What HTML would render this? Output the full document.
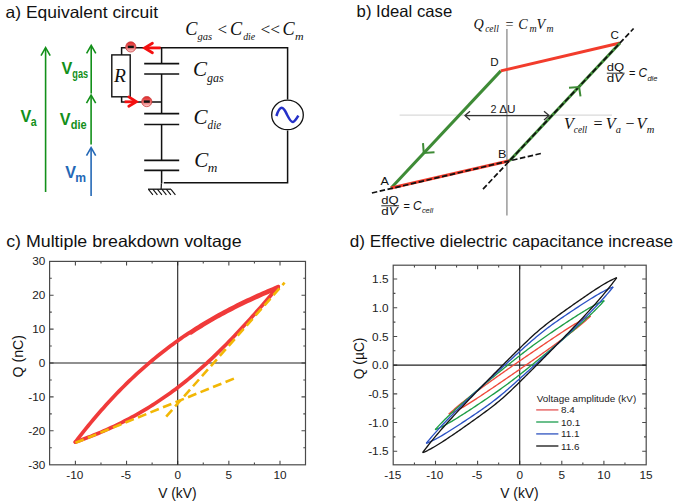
<!DOCTYPE html>
<html><head><meta charset="utf-8"><style>
html,body{margin:0;padding:0;background:#fff;}
svg{display:block;}
</style></head><body>
<svg width="675" height="504" viewBox="0 0 675 504">
<rect width="675" height="504" fill="#fff"/>
<text x="5.6" y="17.8" style="font-family:'Liberation Sans',sans-serif;font-size:16.5px" fill="#111" textLength="152.4" lengthAdjust="spacingAndGlyphs">a) Equivalent circuit</text>
<text x="356.6" y="17.1" style="font-family:'Liberation Sans',sans-serif;font-size:16.5px" fill="#111" textLength="95.6" lengthAdjust="spacingAndGlyphs">b) Ideal case</text>
<text x="6.2" y="247.3" style="font-family:'Liberation Sans',sans-serif;font-size:16.5px" fill="#111" textLength="235.4" lengthAdjust="spacingAndGlyphs">c) Multiple breakdown voltage</text>
<text x="349.8" y="247.3" style="font-family:'Liberation Sans',sans-serif;font-size:16.5px" fill="#111" textLength="323.2" lengthAdjust="spacingAndGlyphs">d) Effective dielectric capacitance increase</text>
<line x1="45.6" y1="48.2" x2="45.6" y2="192" stroke="#13901a" stroke-width="1.6"/>
<polyline points="41.0,55.6 45.6,47.6 50.2,55.6" fill="none" stroke="#13901a" stroke-width="1.6"/>
<line x1="91.2" y1="46.0" x2="91.2" y2="93.5" stroke="#13901a" stroke-width="1.6"/>
<polyline points="86.60000000000001,53.4 91.2,45.4 95.8,53.4" fill="none" stroke="#13901a" stroke-width="1.6"/>
<line x1="91.1" y1="95.8" x2="91.1" y2="144.5" stroke="#13901a" stroke-width="1.6"/>
<polyline points="86.5,103.2 91.1,95.2 95.69999999999999,103.2" fill="none" stroke="#13901a" stroke-width="1.6"/>
<line x1="91.1" y1="148.2" x2="91.1" y2="196" stroke="#2468b6" stroke-width="1.6"/>
<polyline points="86.5,155.6 91.1,147.6 95.69999999999999,155.6" fill="none" stroke="#2468b6" stroke-width="1.6"/>
<text x="61.4" y="74" style="font-family:'Liberation Sans',sans-serif;font-size:16.2px;font-weight:bold" fill="#13901a">V</text>
<text x="72.3" y="78.4" style="font-family:'Liberation Sans',sans-serif;font-size:12.6px;font-weight:bold" fill="#13901a" textLength="15.8" lengthAdjust="spacingAndGlyphs">gas</text>
<text x="20.6" y="121.6" style="font-family:'Liberation Sans',sans-serif;font-size:16.2px;font-weight:bold" fill="#13901a">V</text>
<text x="30.8" y="126" style="font-family:'Liberation Sans',sans-serif;font-size:12.6px;font-weight:bold" fill="#13901a" textLength="5.9" lengthAdjust="spacingAndGlyphs">a</text>
<text x="59.7" y="124.6" style="font-family:'Liberation Sans',sans-serif;font-size:16.2px;font-weight:bold" fill="#13901a">V</text>
<text x="70.8" y="129" style="font-family:'Liberation Sans',sans-serif;font-size:12.6px;font-weight:bold" fill="#13901a" textLength="15.9" lengthAdjust="spacingAndGlyphs">die</text>
<text x="65.3" y="177.8" style="font-family:'Liberation Sans',sans-serif;font-size:16.2px;font-weight:bold" fill="#2468b6">V</text>
<text x="75.3" y="182.2" style="font-family:'Liberation Sans',sans-serif;font-size:12.6px;font-weight:bold" fill="#2468b6" textLength="10.8" lengthAdjust="spacingAndGlyphs">m</text>
<path d="M121.6,55 V47.8 H287.6 V99.5 M287.6,130.5 V182.8 H163.8 M121.6,96.8 V102 H161.6 M161.6,47.8 V63.6 M161.6,74 V113.6 M161.6,124.5 V160.3 M161.6,170.3 V183.5" fill="none" stroke="#111" stroke-width="1.5"/>
<path d="M161.4,183.5 L161.1,189" stroke="#111" stroke-width="1.2"/>
<rect x="111.8" y="54.9" width="18.4" height="41.9" fill="#fff" stroke="#111" stroke-width="1.4"/>
<text x="114" y="81.9" style="font-family:'Liberation Serif',serif;font-size:19.5px;font-style:italic" fill="#111">R</text>
<line x1="144.2" y1="63.6" x2="179.2" y2="63.6" stroke="#111" stroke-width="1.7"/>
<line x1="144.2" y1="74" x2="179.2" y2="74" stroke="#111" stroke-width="1.7"/>
<line x1="144.2" y1="113.6" x2="179.2" y2="113.6" stroke="#111" stroke-width="1.7"/>
<line x1="144.2" y1="124.5" x2="179.2" y2="124.5" stroke="#111" stroke-width="1.7"/>
<line x1="144.2" y1="160.3" x2="179.2" y2="160.3" stroke="#111" stroke-width="1.7"/>
<line x1="144.2" y1="170.3" x2="179.2" y2="170.3" stroke="#111" stroke-width="1.7"/>
<line x1="148" y1="189.2" x2="171" y2="189.2" stroke="#111" stroke-width="1.3"/>
<line x1="148.5" y1="189.3" x2="152.9" y2="194.8" stroke="#111" stroke-width="1.1"/>
<line x1="153.0" y1="189.3" x2="157.4" y2="194.8" stroke="#111" stroke-width="1.1"/>
<line x1="157.5" y1="189.3" x2="161.9" y2="194.8" stroke="#111" stroke-width="1.1"/>
<line x1="162.0" y1="189.3" x2="166.4" y2="194.8" stroke="#111" stroke-width="1.1"/>
<line x1="166.5" y1="189.3" x2="170.9" y2="194.8" stroke="#111" stroke-width="1.1"/>
<line x1="171.0" y1="189.3" x2="175.4" y2="194.8" stroke="#111" stroke-width="1.1"/>
<ellipse cx="287.5" cy="114.9" rx="15.8" ry="14.8" fill="#fff" stroke="#111" stroke-width="1.3"/>
<path d="M276.4,116 C278.5,109.5 280.4,107.6 282.2,107.9 C284.5,108.3 285.6,112 287.2,115 C289,118.5 290.6,122.2 293,121.9 C295,121.6 296.8,118.4 298.4,115.6" fill="none" stroke="#2430c8" stroke-width="2.5"/>
<defs><linearGradient id="eg" x1="0" y1="0" x2="0" y2="1"><stop offset="0" stop-color="#e02a2a"/><stop offset="0.55" stop-color="#ec6a6a"/><stop offset="1" stop-color="#fbd6d6"/></linearGradient></defs>
<circle cx="130.8" cy="46.9" r="5.1" fill="url(#eg)" stroke="#c83a3a" stroke-width="0.8"/>
<rect x="127.80000000000001" y="45.699999999999996" width="6" height="2.4" fill="#111"/>
<circle cx="146.8" cy="101.6" r="5.1" fill="url(#eg)" stroke="#c83a3a" stroke-width="0.8"/>
<rect x="143.8" y="100.39999999999999" width="6" height="2.4" fill="#111"/>
<line x1="145" y1="47.9" x2="160.6" y2="47.9" stroke="#f41010" stroke-width="2.8"/>
<polyline points="152.4,43.2 144.6,47.9 152.4,52.7" fill="none" stroke="#f41010" stroke-width="2.8" stroke-linecap="round"/>
<line x1="124.6" y1="101.8" x2="135.4" y2="101.8" stroke="#f41010" stroke-width="2.8"/>
<polyline points="128.8,96.9 136.4,101.8 128.8,106.2" fill="none" stroke="#f41010" stroke-width="2.8" stroke-linecap="round"/>
<text x="193" y="76" style="font-family:'Liberation Serif',serif;font-size:21px;font-style:italic" fill="#111">C</text>
<text x="207" y="81.6" style="font-family:'Liberation Serif',serif;font-size:12.6px;font-style:italic" fill="#111" textLength="16.6" lengthAdjust="spacingAndGlyphs">gas</text>
<text x="193.4" y="123.8" style="font-family:'Liberation Serif',serif;font-size:21px;font-style:italic" fill="#111">C</text>
<text x="207.6" y="129.4" style="font-family:'Liberation Serif',serif;font-size:12.6px;font-style:italic" fill="#111" textLength="13.6" lengthAdjust="spacingAndGlyphs">die</text>
<text x="194.2" y="166.8" style="font-family:'Liberation Serif',serif;font-size:21px;font-style:italic" fill="#111">C</text>
<text x="207.8" y="172.4" style="font-family:'Liberation Serif',serif;font-size:12.6px;font-style:italic" fill="#111" textLength="9.6" lengthAdjust="spacingAndGlyphs">m</text>
<text x="185.2" y="34.9" style="font-family:'Liberation Serif',serif;font-size:18.2px;font-style:italic" fill="#111">C</text>
<text x="197.6" y="40.2" style="font-family:'Liberation Serif',serif;font-size:11.2px;font-style:italic" fill="#111" textLength="14.6" lengthAdjust="spacingAndGlyphs">gas</text>
<text x="217.6" y="34.9" style="font-family:'Liberation Serif',serif;font-size:17px" fill="#111">&lt;</text>
<text x="230" y="34.9" style="font-family:'Liberation Serif',serif;font-size:18.2px;font-style:italic" fill="#111">C</text>
<text x="243.2" y="40.2" style="font-family:'Liberation Serif',serif;font-size:11.2px;font-style:italic" fill="#111" textLength="12" lengthAdjust="spacingAndGlyphs">die</text>
<text x="260.6" y="34.9" style="font-family:'Liberation Serif',serif;font-size:17px" fill="#111" textLength="19.5" lengthAdjust="spacingAndGlyphs">&lt;&lt;</text>
<text x="282.4" y="34.9" style="font-family:'Liberation Serif',serif;font-size:18.2px;font-style:italic" fill="#111">C</text>
<text x="295" y="40.2" style="font-family:'Liberation Serif',serif;font-size:11.2px;font-style:italic" fill="#111" textLength="8.6" lengthAdjust="spacingAndGlyphs">m</text>
<line x1="399.6" y1="115.2" x2="612" y2="115.2" stroke="#dadada" stroke-width="1.2"/>
<line x1="506.9" y1="28.9" x2="506.9" y2="215.6" stroke="#9a9a9a" stroke-width="1.5"/>
<line x1="500.8" y1="70.9" x2="391.1" y2="188.0" stroke="#3e8b36" stroke-width="3"/>
<line x1="500.8" y1="70.9" x2="620.0" y2="43.0" stroke="#f23c2c" stroke-width="3"/>
<line x1="391.1" y1="188.0" x2="509.6" y2="160.7" stroke="#f23c2c" stroke-width="3"/>
<line x1="509.6" y1="160.7" x2="620.0" y2="43.0" stroke="#3e8b36" stroke-width="3"/>
<line x1="371.9" y1="193.02" x2="541.3" y2="153.4" stroke="#111" stroke-width="1.7" stroke-dasharray="5.5,2.5"/>
<line x1="483" y1="189.06" x2="633.6" y2="28.5" stroke="#111" stroke-width="1.7" stroke-dasharray="5.5,2.5"/>
<polyline points="423,143.2 423.75,152.9 434.5,152.2" fill="none" stroke="#3e8b36" stroke-width="2"/>
<polyline points="569,87.7 579.1,87 580.5,96.4" fill="none" stroke="#3e8b36" stroke-width="2"/>
<line x1="465" y1="115.6" x2="549" y2="115.6" stroke="#333" stroke-width="1.3"/>
<polyline points="470,111.3 465,115.6 470,119.9" fill="none" stroke="#333" stroke-width="1.3"/>
<polyline points="544,111.3 549,115.6 544,119.9" fill="none" stroke="#333" stroke-width="1.3"/>
<text x="490.6" y="112.8" style="font-family:'Liberation Sans',sans-serif;font-size:10.8px" fill="#222">2</text>
<text x="499.2" y="112.8" style="font-family:'Liberation Sans',sans-serif;font-size:10.8px" fill="#222" textLength="16.4" lengthAdjust="spacingAndGlyphs">ΔU</text>
<text x="490.3" y="66.2" style="font-family:'Liberation Sans',sans-serif;font-size:11.6px" fill="#111" textLength="8.4" lengthAdjust="spacingAndGlyphs">D</text>
<text x="610.6" y="39.2" style="font-family:'Liberation Sans',sans-serif;font-size:11.6px" fill="#111" textLength="8.4" lengthAdjust="spacingAndGlyphs">C</text>
<text x="498" y="157.8" style="font-family:'Liberation Sans',sans-serif;font-size:11.6px" fill="#111" textLength="8.4" lengthAdjust="spacingAndGlyphs">B</text>
<text x="380.6" y="185.2" style="font-family:'Liberation Sans',sans-serif;font-size:11.6px" fill="#111" textLength="8.4" lengthAdjust="spacingAndGlyphs">A</text>
<text x="473.4" y="28.6" style="font-family:'Liberation Serif',serif;font-size:14.2px;font-style:italic" fill="#111">Q</text>
<text x="485.2" y="31.7" style="font-family:'Liberation Serif',serif;font-size:10.2px;font-style:italic" fill="#111" textLength="13.6" lengthAdjust="spacingAndGlyphs">cell</text>
<text x="505.4" y="28.6" style="font-family:'Liberation Serif',serif;font-size:14.2px" fill="#111">=</text>
<text x="518.2" y="28.6" style="font-family:'Liberation Serif',serif;font-size:14.2px;font-style:italic" fill="#111">C</text>
<text x="529.4" y="31.7" style="font-family:'Liberation Serif',serif;font-size:10.2px;font-style:italic" fill="#111" textLength="7.2" lengthAdjust="spacingAndGlyphs">m</text>
<text x="536.4" y="28.6" style="font-family:'Liberation Serif',serif;font-size:14.2px;font-style:italic" fill="#111">V</text>
<text x="546.4" y="31.7" style="font-family:'Liberation Serif',serif;font-size:10.2px;font-style:italic" fill="#111" textLength="7.0" lengthAdjust="spacingAndGlyphs">m</text>
<text x="564" y="128.7" style="font-family:'Liberation Serif',serif;font-size:16px;font-style:italic" fill="#111">V</text>
<text x="573.8" y="133" style="font-family:'Liberation Serif',serif;font-size:10.4px;font-style:italic" fill="#111" textLength="13.4" lengthAdjust="spacingAndGlyphs">cell</text>
<text x="593.4" y="128.7" style="font-family:'Liberation Serif',serif;font-size:16px" fill="#111">=</text>
<text x="605.8" y="128.7" style="font-family:'Liberation Serif',serif;font-size:16px;font-style:italic" fill="#111">V</text>
<text x="615.8" y="133" style="font-family:'Liberation Serif',serif;font-size:10.4px;font-style:italic" fill="#111">a</text>
<text x="625.4" y="128.7" style="font-family:'Liberation Serif',serif;font-size:16px" fill="#111">−</text>
<text x="636.4" y="128.7" style="font-family:'Liberation Serif',serif;font-size:16px;font-style:italic" fill="#111">V</text>
<text x="646.8" y="133" style="font-family:'Liberation Serif',serif;font-size:10.4px;font-style:italic" fill="#111" textLength="7.6" lengthAdjust="spacingAndGlyphs">m</text>
<text x="606.8" y="71" style="font-family:'Liberation Sans',sans-serif;font-size:11px" fill="#111" textLength="17.4" lengthAdjust="spacingAndGlyphs">dQ</text>
<line x1="606.8" y1="73.2" x2="624.5999999999999" y2="73.2" stroke="#111" stroke-width="0.9"/>
<text x="606.8" y="82" style="font-family:'Liberation Sans',sans-serif;font-size:11px" fill="#111" textLength="16.4" lengthAdjust="spacingAndGlyphs">d<tspan style="font-style:italic">V</tspan></text>
<text x="629" y="77.4" style="font-family:'Liberation Sans',sans-serif;font-size:11px" fill="#111">=</text>
<text x="638.6" y="77.4" style="font-family:'Liberation Sans',sans-serif;font-size:12px;font-style:italic" fill="#111" textLength="8.6" lengthAdjust="spacingAndGlyphs">C</text>
<text x="647.4" y="80.6" style="font-family:'Liberation Sans',sans-serif;font-size:7.4px;font-style:italic" fill="#111" textLength="10" lengthAdjust="spacingAndGlyphs">die</text>
<text x="381.3" y="203.6" style="font-family:'Liberation Sans',sans-serif;font-size:11px" fill="#111" textLength="17.4" lengthAdjust="spacingAndGlyphs">dQ</text>
<line x1="381.3" y1="205.8" x2="399.1" y2="205.8" stroke="#111" stroke-width="0.9"/>
<text x="381.3" y="214.6" style="font-family:'Liberation Sans',sans-serif;font-size:11px" fill="#111" textLength="16.4" lengthAdjust="spacingAndGlyphs">d<tspan style="font-style:italic">V</tspan></text>
<text x="403.5" y="210" style="font-family:'Liberation Sans',sans-serif;font-size:11px" fill="#111">=</text>
<text x="413.1" y="210" style="font-family:'Liberation Sans',sans-serif;font-size:12px;font-style:italic" fill="#111" textLength="8.6" lengthAdjust="spacingAndGlyphs">C</text>
<text x="421.9" y="213.2" style="font-family:'Liberation Sans',sans-serif;font-size:7.4px;font-style:italic" fill="#111" textLength="11.2" lengthAdjust="spacingAndGlyphs">cell</text>
<rect x="49.6" y="261.4" width="255.9" height="203.4" fill="none" stroke="#4a4a4a" stroke-width="1.2"/>
<path d="M75.4,261.4 v4 M75.4,464.8 v-4 M100.97,261.4 v2.2 M100.97,464.8 v-2.2 M126.55,261.4 v4 M126.55,464.8 v-4 M152.12,261.4 v2.2 M152.12,464.8 v-2.2 M177.7,261.4 v4 M177.7,464.8 v-4 M203.27,261.4 v2.2 M203.27,464.8 v-2.2 M228.85,261.4 v4 M228.85,464.8 v-4 M254.43,261.4 v2.2 M254.43,464.8 v-2.2 M280,261.4 v4 M280,464.8 v-4 M49.6,447.73 h2.2 M305.5,447.73 h-2.2 M49.6,430.78 h4 M305.5,430.78 h-4 M49.6,413.83 h2.2 M305.5,413.83 h-2.2 M49.6,396.89 h4 M305.5,396.89 h-4 M49.6,379.94 h2.2 M305.5,379.94 h-2.2 M49.6,363 h4 M305.5,363 h-4 M49.6,346.06 h2.2 M305.5,346.06 h-2.2 M49.6,329.11 h4 M305.5,329.11 h-4 M49.6,312.17 h2.2 M305.5,312.17 h-2.2 M49.6,295.22 h4 M305.5,295.22 h-4 M49.6,278.27 h2.2 M305.5,278.27 h-2.2 " stroke="#4a4a4a" stroke-width="1.1" fill="none"/>
<line x1="49.6" y1="363.0" x2="305.5" y2="363.0" stroke="#222" stroke-width="1.1"/>
<line x1="177.7" y1="261.4" x2="177.7" y2="464.8" stroke="#222" stroke-width="1.1"/>
<text x="74.8" y="479.2" style="font-family:'Liberation Sans',sans-serif;font-size:11.8px" fill="#222" text-anchor="middle">-10</text>
<text x="125.95" y="479.2" style="font-family:'Liberation Sans',sans-serif;font-size:11.8px" fill="#222" text-anchor="middle">-5</text>
<text x="177.7" y="479.2" style="font-family:'Liberation Sans',sans-serif;font-size:11.8px" fill="#222" text-anchor="middle">0</text>
<text x="228.85" y="479.2" style="font-family:'Liberation Sans',sans-serif;font-size:11.8px" fill="#222" text-anchor="middle">5</text>
<text x="280" y="479.2" style="font-family:'Liberation Sans',sans-serif;font-size:11.8px" fill="#222" text-anchor="middle">10</text>
<text x="45.4" y="265.43" style="font-family:'Liberation Sans',sans-serif;font-size:11.8px" fill="#222" text-anchor="end">30</text>
<text x="45.4" y="299.32" style="font-family:'Liberation Sans',sans-serif;font-size:11.8px" fill="#222" text-anchor="end">20</text>
<text x="45.4" y="333.21" style="font-family:'Liberation Sans',sans-serif;font-size:11.8px" fill="#222" text-anchor="end">10</text>
<text x="45.4" y="367.1" style="font-family:'Liberation Sans',sans-serif;font-size:11.8px" fill="#222" text-anchor="end">0</text>
<text x="45.4" y="400.99" style="font-family:'Liberation Sans',sans-serif;font-size:11.8px" fill="#222" text-anchor="end">-10</text>
<text x="45.4" y="434.88" style="font-family:'Liberation Sans',sans-serif;font-size:11.8px" fill="#222" text-anchor="end">-20</text>
<text x="45.4" y="468.77" style="font-family:'Liberation Sans',sans-serif;font-size:11.8px" fill="#222" text-anchor="end">-30</text>
<text x="177.4" y="497.6" style="font-family:'Liberation Sans',sans-serif;font-size:13.8px" fill="#111" text-anchor="middle">V (kV)</text>
<text transform="translate(22.8,356.2) rotate(-90)" text-anchor="middle" textLength="42.6" lengthAdjust="spacingAndGlyphs" style="font-family:'Liberation Sans',sans-serif;font-size:13.8px" fill="#111">Q (nC)</text>
<path d="M75.4,442.1 L77.97,438.73 L80.53,435.42 L83.1,432.15 L85.67,428.92 L88.24,425.75 L90.8,422.62 L93.37,419.54 L95.94,416.5 L98.5,413.51 L101.07,410.56 L103.64,407.66 L106.21,404.8 L108.77,401.98 L111.34,399.21 L113.91,396.48 L116.47,393.79 L119.04,391.14 L121.61,388.53 L124.17,385.96 L126.74,383.44 L129.31,380.95 L131.88,378.5 L134.44,376.08 L137.01,373.71 L139.58,371.37 L142.14,369.07 L144.71,366.81 L147.28,364.58 L149.85,362.38 L152.41,360.23 L154.98,358.1 L157.55,356.01 L160.11,353.95 L162.68,351.93 L165.25,349.94 L167.82,347.98 L170.38,346.05 L172.95,344.15 L175.52,342.28 L178.08,340.44 L180.65,338.63 L183.22,336.85 L185.78,335.1 L188.35,333.37 L190.92,331.68 L193.49,330.01 L196.05,328.36 L198.62,326.75 L201.19,325.15 L203.75,323.59 L206.32,322.04 L208.89,320.52 L211.46,319.03 L214.02,317.56 L216.59,316.1 L219.16,314.68 L221.72,313.27 L224.29,311.88 L226.86,310.52 L229.43,309.17 L231.99,307.85 L234.56,306.54 L237.13,305.25 L239.69,303.98 L242.26,302.73 L244.83,301.49 L247.39,300.27 L249.96,299.06 L252.53,297.88 L255.1,296.7 L257.66,295.54 L260.23,294.4 L262.8,293.27 L265.36,292.15 L267.93,291.05 L270.5,289.95 L273.07,288.87 L275.63,287.8 L278.2,286.74 " fill="none" stroke="#f03a3a" stroke-width="3.7" stroke-linejoin="round" stroke-linecap="round"/>
<path d="M75.4,442.08 L77.97,441.18 L80.53,440.25 L83.1,439.3 L85.67,438.34 L88.24,437.35 L90.8,436.35 L93.37,435.32 L95.94,434.27 L98.5,433.21 L101.07,432.12 L103.64,431 L106.21,429.87 L108.77,428.71 L111.34,427.53 L113.91,426.32 L116.47,425.1 L119.04,423.84 L121.61,422.56 L124.17,421.26 L126.74,419.93 L129.31,418.57 L131.88,417.18 L134.44,415.77 L137.01,414.34 L139.58,412.87 L142.14,411.37 L144.71,409.85 L147.28,408.3 L149.85,406.71 L152.41,405.1 L154.98,403.46 L157.55,401.78 L160.11,400.08 L162.68,398.34 L165.25,396.57 L167.82,394.77 L170.38,392.94 L172.95,391.07 L175.52,389.17 L178.08,387.23 L180.65,385.26 L183.22,383.26 L185.78,381.22 L188.35,379.14 L190.92,377.03 L193.49,374.88 L196.05,372.69 L198.62,370.47 L201.19,368.21 L203.75,365.91 L206.32,363.58 L208.89,361.21 L211.46,358.8 L214.02,356.37 L216.59,353.9 L219.16,351.4 L221.72,348.86 L224.29,346.3 L226.86,343.7 L229.43,341.08 L231.99,338.43 L234.56,335.75 L237.13,333.04 L239.69,330.31 L242.26,327.55 L244.83,324.77 L247.39,321.97 L249.96,319.14 L252.53,316.28 L255.1,313.41 L257.66,310.51 L260.23,307.6 L262.8,304.66 L265.36,301.71 L267.93,298.74 L270.5,295.75 L273.07,292.74 L275.63,289.72 L278.2,286.69" fill="none" stroke="#f03a3a" stroke-width="3.7" stroke-linejoin="round" stroke-linecap="round"/>
<path d="M190.92,332.88 L193.49,331.21 L196.05,329.56 L198.62,327.95 L201.19,326.35 L203.75,324.79 L206.32,323.24 L208.89,321.72 L211.46,320.23 L214.02,318.76 L216.59,317.3 L219.16,315.88 L221.72,314.47 L224.29,313.08 L226.86,311.72 L229.43,310.37 L231.99,309.05 L234.56,307.74 L237.13,306.45 L239.69,305.18 L242.26,303.93 L244.83,302.69 L247.39,301.47 L249.96,300.26 L252.53,299.08 L255.1,297.9 L257.66,296.74 L260.23,295.6 L262.8,294.47 L265.36,293.35 L267.93,292.25 L270.5,291.15 L273.07,290.07 L275.63,289 L278.2,287.94" fill="none" stroke="#f03a3a" stroke-width="3.6" stroke-linejoin="round" stroke-linecap="round"/>
<line x1="75.4" y1="442.8" x2="234.4" y2="378.4" stroke="#f2b705" stroke-width="2.6" stroke-dasharray="9,4.5"/>
<line x1="166.2" y1="416.6" x2="284.6" y2="282.6" stroke="#f2b705" stroke-width="2.6" stroke-dasharray="9,4.5"/>
<rect x="393.2" y="265.2" width="253" height="199.6" fill="none" stroke="#4a4a4a" stroke-width="1.2"/>
<path d="M414.45,265.2 v2.2 M414.45,464.8 v-2.2 M435.5,265.2 v4 M435.5,464.8 v-4 M456.55,265.2 v2.2 M456.55,464.8 v-2.2 M477.6,265.2 v4 M477.6,464.8 v-4 M498.65,265.2 v2.2 M498.65,464.8 v-2.2 M519.7,265.2 v4 M519.7,464.8 v-4 M540.75,265.2 v2.2 M540.75,464.8 v-2.2 M561.8,265.2 v4 M561.8,464.8 v-4 M582.85,265.2 v2.2 M582.85,464.8 v-2.2 M603.9,265.2 v4 M603.9,464.8 v-4 M624.95,265.2 v2.2 M624.95,464.8 v-2.2 M393.2,451.25 h4 M646.2,451.25 h-4 M393.2,436.9 h2.2 M646.2,436.9 h-2.2 M393.2,422.55 h4 M646.2,422.55 h-4 M393.2,408.2 h2.2 M646.2,408.2 h-2.2 M393.2,393.85 h4 M646.2,393.85 h-4 M393.2,379.5 h2.2 M646.2,379.5 h-2.2 M393.2,365.15 h4 M646.2,365.15 h-4 M393.2,350.8 h2.2 M646.2,350.8 h-2.2 M393.2,336.45 h4 M646.2,336.45 h-4 M393.2,322.1 h2.2 M646.2,322.1 h-2.2 M393.2,307.75 h4 M646.2,307.75 h-4 M393.2,293.4 h2.2 M646.2,293.4 h-2.2 M393.2,279.05 h4 M646.2,279.05 h-4 " stroke="#4a4a4a" stroke-width="1.1" fill="none"/>
<line x1="393.2" y1="365.15" x2="646.2" y2="365.15" stroke="#222" stroke-width="1.1"/>
<line x1="519.7" y1="265.2" x2="519.7" y2="464.8" stroke="#222" stroke-width="1.1"/>
<text x="392.8" y="479.2" style="font-family:'Liberation Sans',sans-serif;font-size:11.8px" fill="#222" text-anchor="middle">-15</text>
<text x="434.9" y="479.2" style="font-family:'Liberation Sans',sans-serif;font-size:11.8px" fill="#222" text-anchor="middle">-10</text>
<text x="477" y="479.2" style="font-family:'Liberation Sans',sans-serif;font-size:11.8px" fill="#222" text-anchor="middle">-5</text>
<text x="519.7" y="479.2" style="font-family:'Liberation Sans',sans-serif;font-size:11.8px" fill="#222" text-anchor="middle">0</text>
<text x="561.8" y="479.2" style="font-family:'Liberation Sans',sans-serif;font-size:11.8px" fill="#222" text-anchor="middle">5</text>
<text x="603.9" y="479.2" style="font-family:'Liberation Sans',sans-serif;font-size:11.8px" fill="#222" text-anchor="middle">10</text>
<text x="646" y="479.2" style="font-family:'Liberation Sans',sans-serif;font-size:11.8px" fill="#222" text-anchor="middle">15</text>
<text x="388.5" y="283.15" style="font-family:'Liberation Sans',sans-serif;font-size:11.8px" fill="#222" text-anchor="end">1.5</text>
<text x="388.5" y="311.85" style="font-family:'Liberation Sans',sans-serif;font-size:11.8px" fill="#222" text-anchor="end">1.0</text>
<text x="388.5" y="340.55" style="font-family:'Liberation Sans',sans-serif;font-size:11.8px" fill="#222" text-anchor="end">0.5</text>
<text x="388.5" y="369.25" style="font-family:'Liberation Sans',sans-serif;font-size:11.8px" fill="#222" text-anchor="end">0.0</text>
<text x="388.5" y="397.95" style="font-family:'Liberation Sans',sans-serif;font-size:11.8px" fill="#222" text-anchor="end">-0.5</text>
<text x="388.5" y="426.65" style="font-family:'Liberation Sans',sans-serif;font-size:11.8px" fill="#222" text-anchor="end">-1.0</text>
<text x="388.5" y="455.35" style="font-family:'Liberation Sans',sans-serif;font-size:11.8px" fill="#222" text-anchor="end">-1.5</text>
<text x="519.5" y="497.6" style="font-family:'Liberation Sans',sans-serif;font-size:13.8px" fill="#111" text-anchor="middle">V (kV)</text>
<text transform="translate(363.6,358.4) rotate(-90)" text-anchor="middle" style="font-family:'Liberation Sans',sans-serif;font-size:13.8px" fill="#111">Q (µC)</text>
<path d="M448.8,414.2 L449.99,413.1 L451.18,412.02 L452.37,410.96 L453.57,409.91 L454.76,408.87 L455.95,407.85 L457.14,406.83 L458.33,405.83 L459.52,404.84 L460.72,403.86 L461.91,402.89 L463.1,401.93 L464.29,400.98 L465.48,400.03 L466.67,399.09 L467.87,398.16 L469.06,397.24 L470.25,396.32 L471.44,395.4 L472.63,394.5 L473.82,393.6 L475.02,392.7 L476.21,391.81 L477.4,390.92 L478.59,390.03 L479.78,389.15 L480.97,388.28 L482.16,387.41 L483.36,386.54 L484.55,385.67 L485.74,384.81 L486.93,383.94 L488.12,383.09 L489.31,382.23 L490.51,381.38 L491.7,380.53 L492.89,379.68 L494.08,378.83 L495.27,377.98 L496.46,377.14 L497.66,376.3 L498.85,375.46 L500.04,374.62 L501.23,373.78 L502.42,372.94 L503.61,372.11 L504.81,371.27 L506,370.44 L507.19,369.61 L508.38,368.78 L509.57,367.95 L510.76,367.12 L511.95,366.29 L513.15,365.47 L514.34,364.64 L515.53,363.82 L516.72,362.99 L517.91,362.17 L519.1,361.34 L520.3,360.52 L521.49,359.7 L522.68,358.88 L523.87,358.06 L525.06,357.24 L526.25,356.42 L527.45,355.6 L528.64,354.79 L529.83,353.97 L531.02,353.15 L532.21,352.34 L533.4,351.52 L534.59,350.71 L535.79,349.89 L536.98,349.08 L538.17,348.27 L539.36,347.46 L540.55,346.64 L541.74,345.83 L542.94,345.02 L544.13,344.22 L545.32,343.41 L546.51,342.6 L547.7,341.8 L548.89,340.99 L550.09,340.19 L551.28,339.39 L552.47,338.58 L553.66,337.79 L554.85,336.99 L556.04,336.19 L557.24,335.4 L558.43,334.61 L559.62,333.82 L560.81,333.03 L562,332.25 L563.19,331.46 L564.38,330.69 L565.58,329.91 L566.77,329.15 L567.96,328.38 L569.15,327.62 L570.34,326.87 L571.53,326.13 L572.73,325.39 L573.92,324.66 L575.11,323.94 L576.3,323.24 L577.49,322.54 L578.68,321.86 L579.88,321.19 L581.07,320.54 L582.26,319.9 L583.45,319.29 L584.64,318.69 L585.83,318.12 L587.03,317.57 L588.22,317.05 L589.41,316.56 L590.6,316.1" fill="none" stroke="#ef4a3c" stroke-width="1.35" stroke-linejoin="round"/>
<path d="M590.6,316.1 L589.41,317.2 L588.22,318.28 L587.03,319.34 L585.83,320.39 L584.64,321.43 L583.45,322.45 L582.26,323.47 L581.07,324.47 L579.88,325.46 L578.68,326.44 L577.49,327.41 L576.3,328.37 L575.11,329.32 L573.92,330.27 L572.73,331.21 L571.53,332.14 L570.34,333.06 L569.15,333.98 L567.96,334.9 L566.77,335.8 L565.58,336.7 L564.38,337.6 L563.19,338.49 L562,339.38 L560.81,340.27 L559.62,341.15 L558.43,342.02 L557.24,342.89 L556.04,343.76 L554.85,344.63 L553.66,345.49 L552.47,346.36 L551.28,347.21 L550.09,348.07 L548.89,348.92 L547.7,349.77 L546.51,350.62 L545.32,351.47 L544.13,352.32 L542.94,353.16 L541.74,354 L540.55,354.84 L539.36,355.68 L538.17,356.52 L536.98,357.36 L535.79,358.19 L534.59,359.03 L533.4,359.86 L532.21,360.69 L531.02,361.52 L529.83,362.35 L528.64,363.18 L527.45,364.01 L526.25,364.83 L525.06,365.66 L523.87,366.48 L522.68,367.31 L521.49,368.13 L520.3,368.96 L519.1,369.78 L517.91,370.6 L516.72,371.42 L515.53,372.24 L514.34,373.06 L513.15,373.88 L511.95,374.7 L510.76,375.51 L509.57,376.33 L508.38,377.15 L507.19,377.96 L506,378.78 L504.81,379.59 L503.61,380.41 L502.42,381.22 L501.23,382.03 L500.04,382.84 L498.85,383.66 L497.66,384.47 L496.46,385.28 L495.27,386.08 L494.08,386.89 L492.89,387.7 L491.7,388.5 L490.51,389.31 L489.31,390.11 L488.12,390.91 L486.93,391.72 L485.74,392.51 L484.55,393.31 L483.36,394.11 L482.16,394.9 L480.97,395.69 L479.78,396.48 L478.59,397.27 L477.4,398.05 L476.21,398.84 L475.02,399.61 L473.82,400.39 L472.63,401.15 L471.44,401.92 L470.25,402.68 L469.06,403.43 L467.87,404.17 L466.67,404.91 L465.48,405.64 L464.29,406.36 L463.1,407.06 L461.91,407.76 L460.72,408.44 L459.52,409.11 L458.33,409.76 L457.14,410.4 L455.95,411.01 L454.76,411.61 L453.57,412.18 L452.37,412.73 L451.18,413.25 L449.99,413.74 L448.8,414.2" fill="none" stroke="#ef4a3c" stroke-width="1.35" stroke-linejoin="round"/>
<path d="M435.1,429.7 L436.52,428.15 L437.94,426.62 L439.37,425.12 L440.79,423.65 L442.21,422.19 L443.63,420.76 L445.05,419.34 L446.47,417.94 L447.9,416.56 L449.32,415.2 L450.74,413.84 L452.16,412.51 L453.58,411.18 L455.01,409.87 L456.43,408.56 L457.85,407.27 L459.27,405.98 L460.69,404.71 L462.12,403.44 L463.54,402.18 L464.96,400.93 L466.38,399.68 L467.8,398.44 L469.22,397.21 L470.65,395.98 L472.07,394.76 L473.49,393.54 L474.91,392.33 L476.33,391.12 L477.76,389.91 L479.18,388.71 L480.6,387.51 L482.02,386.32 L483.44,385.12 L484.86,383.94 L486.29,382.75 L487.71,381.57 L489.13,380.39 L490.55,379.21 L491.97,378.03 L493.4,376.86 L494.82,375.69 L496.24,374.52 L497.66,373.35 L499.08,372.19 L500.51,371.03 L501.93,369.87 L503.35,368.71 L504.77,367.56 L506.19,366.4 L507.61,365.26 L509.04,364.11 L510.46,362.96 L511.88,361.82 L513.3,360.69 L514.72,359.55 L516.15,358.43 L517.57,357.3 L518.99,356.18 L520.41,355.07 L521.83,353.96 L523.25,352.85 L524.68,351.76 L526.1,350.67 L527.52,349.58 L528.94,348.51 L530.36,347.44 L531.79,346.38 L533.21,345.33 L534.63,344.29 L536.05,343.26 L537.47,342.23 L538.89,341.22 L540.32,340.2 L541.74,339.2 L543.16,338.2 L544.58,337.21 L546,336.22 L547.43,335.24 L548.85,334.26 L550.27,333.29 L551.69,332.32 L553.11,331.35 L554.54,330.39 L555.96,329.43 L557.38,328.47 L558.8,327.52 L560.22,326.57 L561.64,325.62 L563.07,324.67 L564.49,323.73 L565.91,322.79 L567.33,321.86 L568.75,320.92 L570.18,319.99 L571.6,319.07 L573.02,318.14 L574.44,317.23 L575.86,316.31 L577.28,315.41 L578.71,314.5 L580.13,313.61 L581.55,312.72 L582.97,311.84 L584.39,310.97 L585.82,310.1 L587.24,309.25 L588.66,308.41 L590.08,307.59 L591.5,306.78 L592.93,305.99 L594.35,305.21 L595.77,304.46 L597.19,303.74 L598.61,303.04 L600.03,302.37 L601.46,301.74 L602.88,301.15 L604.3,300.6" fill="none" stroke="#1e9e46" stroke-width="1.35" stroke-linejoin="round"/>
<path d="M604.3,300.6 L602.88,302.15 L601.46,303.68 L600.03,305.18 L598.61,306.65 L597.19,308.11 L595.77,309.54 L594.35,310.96 L592.93,312.36 L591.5,313.74 L590.08,315.1 L588.66,316.46 L587.24,317.79 L585.82,319.12 L584.39,320.43 L582.97,321.74 L581.55,323.03 L580.13,324.32 L578.71,325.59 L577.28,326.86 L575.86,328.12 L574.44,329.37 L573.02,330.62 L571.6,331.86 L570.18,333.09 L568.75,334.32 L567.33,335.54 L565.91,336.76 L564.49,337.97 L563.07,339.18 L561.64,340.39 L560.22,341.59 L558.8,342.79 L557.38,343.98 L555.96,345.18 L554.54,346.36 L553.11,347.55 L551.69,348.73 L550.27,349.91 L548.85,351.09 L547.43,352.27 L546,353.44 L544.58,354.61 L543.16,355.78 L541.74,356.95 L540.32,358.11 L538.89,359.27 L537.47,360.43 L536.05,361.59 L534.63,362.74 L533.21,363.9 L531.79,365.04 L530.36,366.19 L528.94,367.34 L527.52,368.48 L526.1,369.61 L524.68,370.75 L523.25,371.87 L521.83,373 L520.41,374.12 L518.99,375.23 L517.57,376.34 L516.15,377.45 L514.72,378.54 L513.3,379.63 L511.88,380.72 L510.46,381.79 L509.04,382.86 L507.61,383.92 L506.19,384.97 L504.77,386.01 L503.35,387.04 L501.93,388.07 L500.51,389.08 L499.08,390.1 L497.66,391.1 L496.24,392.1 L494.82,393.09 L493.4,394.08 L491.97,395.06 L490.55,396.04 L489.13,397.01 L487.71,397.98 L486.29,398.95 L484.86,399.91 L483.44,400.87 L482.02,401.83 L480.6,402.78 L479.18,403.73 L477.76,404.68 L476.33,405.63 L474.91,406.57 L473.49,407.51 L472.07,408.44 L470.65,409.38 L469.22,410.31 L467.8,411.23 L466.38,412.16 L464.96,413.07 L463.54,413.99 L462.12,414.89 L460.69,415.8 L459.27,416.69 L457.85,417.58 L456.43,418.46 L455.01,419.33 L453.58,420.2 L452.16,421.05 L450.74,421.89 L449.32,422.71 L447.9,423.52 L446.47,424.31 L445.05,425.09 L443.63,425.84 L442.21,426.56 L440.79,427.26 L439.37,427.93 L437.94,428.56 L436.52,429.15 L435.1,429.7" fill="none" stroke="#1e9e46" stroke-width="1.35" stroke-linejoin="round"/>
<path d="M426.2,443.4 L427.77,441.47 L429.34,439.58 L430.91,437.72 L432.49,435.9 L434.06,434.1 L435.63,432.33 L437.2,430.58 L438.77,428.86 L440.34,427.16 L441.91,425.48 L443.49,423.81 L445.06,422.17 L446.63,420.54 L448.2,418.92 L449.77,417.32 L451.34,415.73 L452.91,414.15 L454.49,412.58 L456.06,411.02 L457.63,409.47 L459.2,407.92 L460.77,406.39 L462.34,404.86 L463.91,403.34 L465.49,401.83 L467.06,400.32 L468.63,398.81 L470.2,397.32 L471.77,395.82 L473.34,394.33 L474.91,392.85 L476.49,391.36 L478.06,389.89 L479.63,388.41 L481.2,386.94 L482.77,385.47 L484.34,384 L485.91,382.54 L487.49,381.08 L489.06,379.62 L490.63,378.16 L492.2,376.7 L493.77,375.25 L495.34,373.8 L496.91,372.35 L498.49,370.9 L500.06,369.45 L501.63,368.01 L503.2,366.57 L504.77,365.13 L506.34,363.69 L507.91,362.25 L509.49,360.81 L511.06,359.38 L512.63,357.95 L514.2,356.52 L515.77,355.1 L517.34,353.68 L518.91,352.26 L520.49,350.84 L522.06,349.43 L523.63,348.02 L525.2,346.62 L526.77,345.23 L528.34,343.84 L529.91,342.46 L531.49,341.09 L533.06,339.73 L534.63,338.39 L536.2,337.06 L537.77,335.74 L539.34,334.44 L540.91,333.17 L542.49,331.91 L544.06,330.67 L545.63,329.46 L547.2,328.26 L548.77,327.09 L550.34,325.93 L551.91,324.79 L553.49,323.66 L555.06,322.54 L556.63,321.44 L558.2,320.34 L559.77,319.25 L561.34,318.17 L562.91,317.09 L564.49,316.02 L566.06,314.96 L567.63,313.89 L569.2,312.84 L570.77,311.79 L572.34,310.74 L573.91,309.7 L575.49,308.66 L577.06,307.62 L578.63,306.59 L580.2,305.56 L581.77,304.54 L583.34,303.53 L584.91,302.52 L586.49,301.51 L588.06,300.52 L589.63,299.53 L591.2,298.55 L592.77,297.58 L594.34,296.63 L595.91,295.68 L597.49,294.75 L599.06,293.84 L600.63,292.95 L602.2,292.08 L603.77,291.23 L605.34,290.41 L606.91,289.63 L608.49,288.88 L610.06,288.17 L611.63,287.51 L613.2,286.9" fill="none" stroke="#2b52c4" stroke-width="1.35" stroke-linejoin="round"/>
<path d="M613.2,286.9 L611.63,288.83 L610.06,290.72 L608.49,292.58 L606.91,294.4 L605.34,296.2 L603.77,297.97 L602.2,299.72 L600.63,301.44 L599.06,303.14 L597.49,304.82 L595.91,306.49 L594.34,308.13 L592.77,309.76 L591.2,311.38 L589.63,312.98 L588.06,314.57 L586.49,316.15 L584.91,317.72 L583.34,319.28 L581.77,320.83 L580.2,322.38 L578.63,323.91 L577.06,325.44 L575.49,326.96 L573.91,328.47 L572.34,329.98 L570.77,331.49 L569.2,332.98 L567.63,334.48 L566.06,335.97 L564.49,337.45 L562.91,338.94 L561.34,340.41 L559.77,341.89 L558.2,343.36 L556.63,344.83 L555.06,346.3 L553.49,347.76 L551.91,349.22 L550.34,350.68 L548.77,352.14 L547.2,353.6 L545.63,355.05 L544.06,356.5 L542.49,357.95 L540.91,359.4 L539.34,360.85 L537.77,362.29 L536.2,363.73 L534.63,365.17 L533.06,366.61 L531.49,368.05 L529.91,369.49 L528.34,370.92 L526.77,372.35 L525.2,373.78 L523.63,375.2 L522.06,376.62 L520.49,378.04 L518.91,379.46 L517.34,380.87 L515.77,382.28 L514.2,383.68 L512.63,385.07 L511.06,386.46 L509.49,387.84 L507.91,389.21 L506.34,390.57 L504.77,391.91 L503.2,393.24 L501.63,394.56 L500.06,395.86 L498.49,397.13 L496.91,398.39 L495.34,399.63 L493.77,400.84 L492.2,402.04 L490.63,403.21 L489.06,404.37 L487.49,405.51 L485.91,406.64 L484.34,407.76 L482.77,408.86 L481.2,409.96 L479.63,411.05 L478.06,412.13 L476.49,413.21 L474.91,414.28 L473.34,415.34 L471.77,416.41 L470.2,417.46 L468.63,418.51 L467.06,419.56 L465.49,420.6 L463.91,421.64 L462.34,422.68 L460.77,423.71 L459.2,424.74 L457.63,425.76 L456.06,426.77 L454.49,427.78 L452.91,428.79 L451.34,429.78 L449.77,430.77 L448.2,431.75 L446.63,432.72 L445.06,433.67 L443.49,434.62 L441.91,435.55 L440.34,436.46 L438.77,437.35 L437.2,438.22 L435.63,439.07 L434.06,439.89 L432.49,440.67 L430.91,441.42 L429.34,442.13 L427.77,442.79 L426.2,443.4" fill="none" stroke="#2b52c4" stroke-width="1.35" stroke-linejoin="round"/>
<path d="M422.6,452.7 L424.23,450.5 L425.86,448.35 L427.5,446.23 L429.13,444.15 L430.76,442.11 L432.39,440.1 L434.02,438.11 L435.66,436.16 L437.29,434.23 L438.92,432.32 L440.55,430.43 L442.18,428.56 L443.82,426.7 L445.45,424.87 L447.08,423.05 L448.71,421.24 L450.34,419.45 L451.97,417.67 L453.61,415.9 L455.24,414.13 L456.87,412.38 L458.5,410.64 L460.13,408.9 L461.77,407.18 L463.4,405.46 L465.03,403.74 L466.66,402.03 L468.29,400.33 L469.93,398.63 L471.56,396.94 L473.19,395.25 L474.82,393.56 L476.45,391.88 L478.09,390.2 L479.72,388.53 L481.35,386.86 L482.98,385.19 L484.61,383.52 L486.25,381.86 L487.88,380.2 L489.51,378.54 L491.14,376.88 L492.77,375.23 L494.41,373.57 L496.04,371.92 L497.67,370.28 L499.3,368.63 L500.93,366.99 L502.56,365.34 L504.2,363.71 L505.83,362.07 L507.46,360.43 L509.09,358.8 L510.72,357.17 L512.36,355.55 L513.99,353.93 L515.62,352.31 L517.25,350.7 L518.88,349.09 L520.52,347.49 L522.15,345.89 L523.78,344.31 L525.41,342.73 L527.04,341.17 L528.68,339.62 L530.31,338.08 L531.94,336.57 L533.57,335.07 L535.2,333.6 L536.84,332.16 L538.47,330.75 L540.1,329.36 L541.73,328 L543.36,326.68 L544.99,325.37 L546.63,324.09 L548.26,322.83 L549.89,321.58 L551.52,320.35 L553.15,319.14 L554.79,317.93 L556.42,316.73 L558.05,315.54 L559.68,314.35 L561.31,313.17 L562.95,312 L564.58,310.83 L566.21,309.66 L567.84,308.5 L569.47,307.34 L571.11,306.19 L572.74,305.04 L574.37,303.89 L576,302.75 L577.63,301.61 L579.27,300.47 L580.9,299.34 L582.53,298.21 L584.16,297.08 L585.79,295.97 L587.43,294.85 L589.06,293.75 L590.69,292.65 L592.32,291.56 L593.95,290.48 L595.58,289.41 L597.22,288.35 L598.85,287.31 L600.48,286.28 L602.11,285.28 L603.74,284.29 L605.38,283.32 L607.01,282.39 L608.64,281.48 L610.27,280.61 L611.9,279.78 L613.54,279 L615.17,278.27 L616.8,277.6" fill="none" stroke="#151515" stroke-width="1.35" stroke-linejoin="round"/>
<path d="M616.8,277.6 L615.17,279.8 L613.54,281.95 L611.9,284.07 L610.27,286.15 L608.64,288.19 L607.01,290.2 L605.38,292.19 L603.74,294.14 L602.11,296.07 L600.48,297.98 L598.85,299.87 L597.22,301.74 L595.58,303.6 L593.95,305.43 L592.32,307.25 L590.69,309.06 L589.06,310.85 L587.43,312.63 L585.79,314.4 L584.16,316.17 L582.53,317.92 L580.9,319.66 L579.27,321.4 L577.63,323.12 L576,324.84 L574.37,326.56 L572.74,328.27 L571.11,329.97 L569.47,331.67 L567.84,333.36 L566.21,335.05 L564.58,336.74 L562.95,338.42 L561.31,340.1 L559.68,341.77 L558.05,343.44 L556.42,345.11 L554.79,346.78 L553.15,348.44 L551.52,350.1 L549.89,351.76 L548.26,353.42 L546.63,355.07 L544.99,356.73 L543.36,358.38 L541.73,360.02 L540.1,361.67 L538.47,363.31 L536.84,364.96 L535.2,366.59 L533.57,368.23 L531.94,369.87 L530.31,371.5 L528.68,373.13 L527.04,374.75 L525.41,376.37 L523.78,377.99 L522.15,379.6 L520.52,381.21 L518.88,382.81 L517.25,384.41 L515.62,385.99 L513.99,387.57 L512.36,389.13 L510.72,390.68 L509.09,392.22 L507.46,393.73 L505.83,395.23 L504.2,396.7 L502.56,398.14 L500.93,399.55 L499.3,400.94 L497.67,402.3 L496.04,403.62 L494.41,404.93 L492.77,406.21 L491.14,407.47 L489.51,408.72 L487.88,409.95 L486.25,411.16 L484.61,412.37 L482.98,413.57 L481.35,414.76 L479.72,415.95 L478.09,417.13 L476.45,418.3 L474.82,419.47 L473.19,420.64 L471.56,421.8 L469.93,422.96 L468.29,424.11 L466.66,425.26 L465.03,426.41 L463.4,427.55 L461.77,428.69 L460.13,429.83 L458.5,430.96 L456.87,432.09 L455.24,433.22 L453.61,434.33 L451.97,435.45 L450.34,436.55 L448.71,437.65 L447.08,438.74 L445.45,439.82 L443.82,440.89 L442.18,441.95 L440.55,442.99 L438.92,444.02 L437.29,445.02 L435.66,446.01 L434.02,446.98 L432.39,447.91 L430.76,448.82 L429.13,449.69 L427.5,450.52 L425.86,451.3 L424.23,452.03 L422.6,452.7" fill="none" stroke="#151515" stroke-width="1.35" stroke-linejoin="round"/>
<text x="536.8" y="401.5" style="font-family:'Liberation Sans',sans-serif;font-size:9.9px" fill="#222" textLength="99.4" lengthAdjust="spacingAndGlyphs">Voltage amplitude (kV)</text>
<line x1="536.2" y1="409.9" x2="558.4" y2="409.9" stroke="#e86a6a" stroke-width="1.5"/>
<text x="561" y="413.4" style="font-family:'Liberation Sans',sans-serif;font-size:9.9px" fill="#222">8.4</text>
<line x1="536.2" y1="422" x2="558.4" y2="422" stroke="#3aaa66" stroke-width="1.5"/>
<text x="561" y="425.5" style="font-family:'Liberation Sans',sans-serif;font-size:9.9px" fill="#222">10.1</text>
<line x1="536.2" y1="433.9" x2="558.4" y2="433.9" stroke="#4a6ac8" stroke-width="1.5"/>
<text x="561" y="437.4" style="font-family:'Liberation Sans',sans-serif;font-size:9.9px" fill="#222">11.1</text>
<line x1="536.2" y1="446" x2="558.4" y2="446" stroke="#333" stroke-width="1.5"/>
<text x="561" y="449.5" style="font-family:'Liberation Sans',sans-serif;font-size:9.9px" fill="#222">11.6</text>
</svg>
</body></html>
